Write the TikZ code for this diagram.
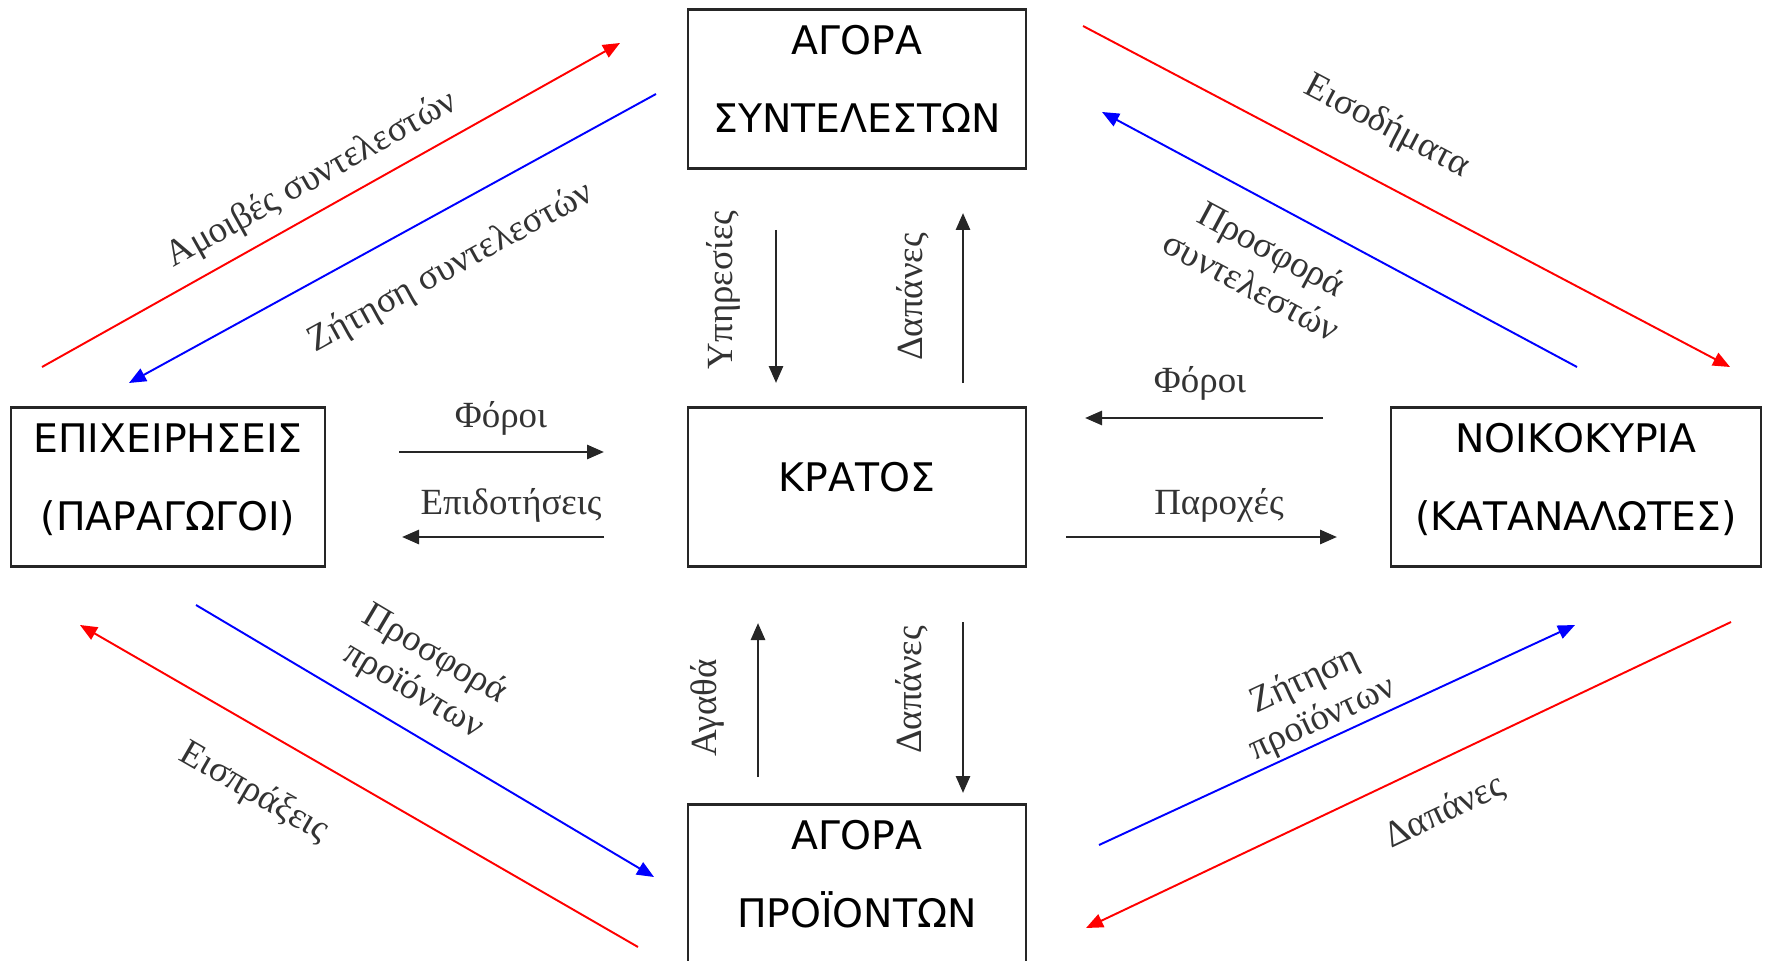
\documentclass[tikz,border=0pt]{standalone}
\usepackage{fontspec}
\setmainfont{Liberation Serif}
\newfontfamily\boxfont{DejaVu Sans}
\usetikzlibrary{arrows.meta}

\tikzset{
  sector/.style={draw=black!85, line width=0.75pt, inner sep=1pt,
    minimum width=33.8mm, minimum height=15.9mm, align=center, text depth=2mm,
    font=\boxfont\fontsize{11.2}{22}\selectfont},
  flow/.style={line width=0.55pt, -{Triangle[length=1.7mm,width=1.4mm]}},
  cash/.style={flow, red},
  goods/.style={flow, blue},
  gov/.style={flow, line width=0.8pt, black!85},
  lbl/.style={font=\fontsize{10.5}{12}\selectfont, text=black!80, align=center, inner sep=0pt},
}

\begin{document}
\begin{tikzpicture}[x=0.1mm, y=0.1mm]
  \useasboundingbox (0,0) rectangle (1766,-961);

  % sectors
  \node[sector] (factors) at (857,-89) {ΑΓΟΡΑ\\ΣΥΝΤΕΛΕΣΤΩΝ};
  \node[sector] (state) at (857,-487) {ΚΡΑΤΟΣ};
  \node[sector] (products) at (857,-884) {ΑΓΟΡΑ\\ΠΡΟΪΟΝΤΩΝ};
  \node[sector, minimum width=31.4mm] (firms) at (168,-487) {ΕΠΙΧΕΙΡΗΣΕΙΣ\\(ΠΑΡΑΓΩΓΟΙ)};
  \node[sector, minimum width=37mm] (homes) at (1576,-487) {ΝΟΙΚΟΚΥΡΙΑ\\(ΚΑΤΑΝΑΛΩΤΕΣ)};

  % arrow ends
  \foreach \n/\x/\y in {wa/42/-367, wb/620/-43, da/656/-94, db/129/-383,
      ia/1083/-26, ib/1730/-367, sa/1577/-367, sb/1102/-112,
      pa/196/-605, pb/654/-877, ra/638/-947, rb/80/-625,
      qa/1099/-845, qb/1575/-625, ea/1731/-622, eb/1086/-928,
      ta/399/-452, tb/604/-452, ga/604/-537, gb/402/-537,
      ha/1323/-418, hb/1085/-418, ba/1066/-537, bb/1337/-537,
      va/776/-230, vb/776/-383, ua/963/-383, ub/963/-213,
      ka/758/-777, kb/758/-623, la/963/-622, lb/963/-793}
    \coordinate (\n) at (\x,\y);

  % factor market
  \draw[cash] (wa) -- (wb);
  \draw[goods] (da) -- (db);
  \draw[cash] (ia) -- (ib);
  \draw[goods] (sa) -- (sb);
  \node[lbl, rotate=29.3] (wagesl) at (312,-180) {Αμοιβές συντελεστών};
  \node[lbl, rotate=28.7] (fdemandl) at (451,-268) {Ζήτηση συντελεστών};
  \node[lbl, rotate=-27.8] (incomel) at (1387,-127) {Εισοδήματα};
  \node[lbl, rotate=-28.2] (fsupplyl) at (1262,-267) {Προσφορά\\συντελεστών};

  % product market
  \draw[goods] (pa) -- (pb);
  \draw[cash] (ra) -- (rb);
  \draw[goods] (qa) -- (qb);
  \draw[cash] (ea) -- (eb);
  \node[lbl, rotate=-30.7] (psupplyl) at (424,-673) {Προσφορά\\προϊόντων};
  \node[lbl, rotate=-30] (revenuel) at (254,-793) {Εισπράξεις};
  \node[lbl, rotate=24.8] (pdemandl) at (1314,-700) {Ζήτηση\\προϊόντων};
  \node[lbl, rotate=25.4] (spendl) at (1445,-812) {Δαπάνες};

  % state
  \draw[gov] (ta) -- (tb);
  \draw[gov] (ga) -- (gb);
  \draw[gov] (ha) -- (hb);
  \draw[gov] (ba) -- (bb);
  \draw[gov] (va) -- (vb);
  \draw[gov] (ua) -- (ub);
  \draw[gov] (ka) -- (kb);
  \draw[gov] (la) -- (lb);
  \node[lbl] (ftaxl) at (501,-418) {Φόροι};
  \node[lbl] (subsl) at (511,-505) {Επιδοτήσεις};
  \node[lbl] (htaxl) at (1200,-383) {Φόροι};
  \node[lbl] (benefl) at (1219,-505) {Παροχές};
  \node[lbl, rotate=90] (servl) at (723,-290) {Υπηρεσίες};
  \node[lbl, rotate=90] (gspendl) at (913,-297) {Δαπάνες};
  \node[lbl, rotate=90] (goodsl) at (707,-708) {Αγαθά};
  \node[lbl, rotate=90] (pspendl) at (912,-690) {Δαπάνες};
\end{tikzpicture}
\end{document}
